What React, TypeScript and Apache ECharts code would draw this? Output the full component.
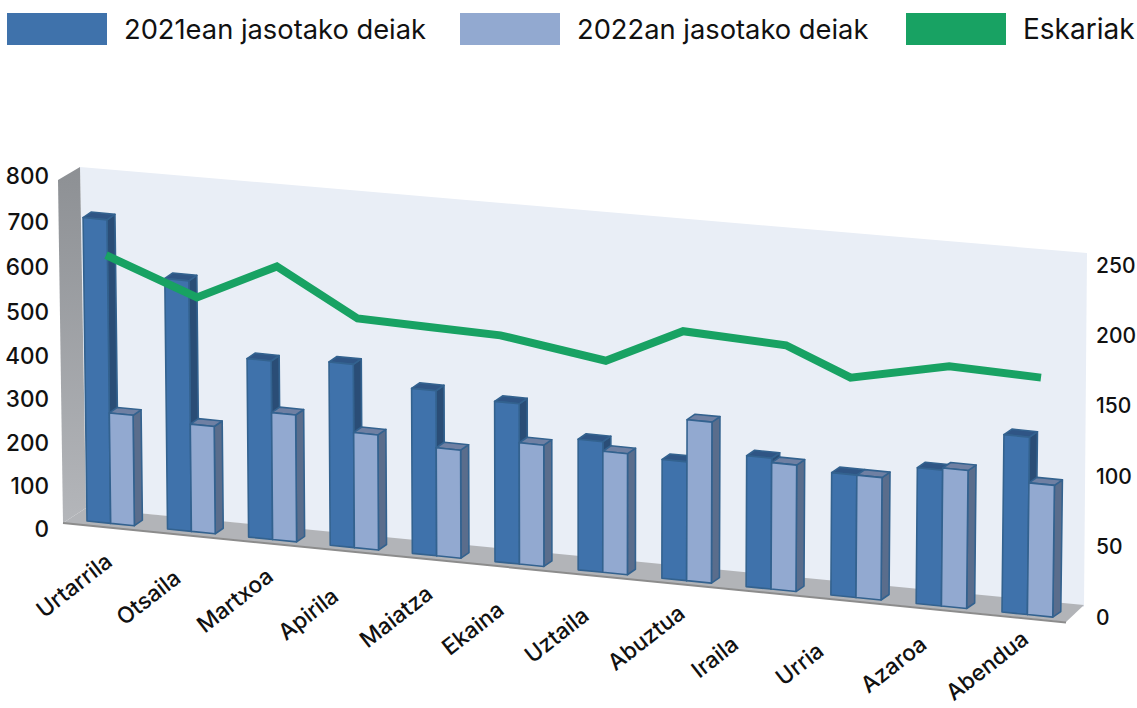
import React, { useEffect, useRef } from "react";
import * as echarts from "echarts";

const months = ["Urtarrila", "Otsaila", "Martxoa", "Apirila", "Maiatza", "Ekaina", "Uztaila", "Abuztua", "Iraila", "Urria", "Azaroa", "Abendua"];
const calls2021 = [709, 584, 415, 425, 382, 370, 301, 273, 300, 280, 310, 404];
const calls2022 = [258, 250, 295, 267, 250, 280, 279, 370, 290, 280, 315, 300];
const demand = [257, 227, 249, 212, 206, 200, 182, 203, 193, 170, 178, 170];
const demandPos = [0, 1.07, 2.01, 2.96, 3.8, 4.64, 5.88, 6.79, 8, 8.76, 9.92, 11];
const leftTicks = { min: 0, max: 800, interval: 100 };
const rightTicks = { min: 0, max: 250, interval: 50 };
const names = ["2021ean jasotako deiak", "2022an jasotako deiak", "Eskariak"];

const FONT = "Inter";
const FLOOR_SLOPE = 0.0995;
const DEPTH = [8, -5.5];

// Perspective: the months spread slightly towards the right, and the scale grows.
const bend = (i: number) => 0.264 * i * (i - 11);
const spacing = (i: number) => 80.28 + 0.528 * i;
const scaleAt = (i: number) => 0.97 + (0.025 * i) / 11;
// The left wall's tick labels crowd slightly towards its foot (perspective).
const tickDrop = (v: number) => (v === 0 || v === 800 ? 0 : v === 100 || v === 700 ? 2 : v >= 400 && v <= 500 ? 4 : 3);

function barShape(api: any, fill: string, side: string, top: string, stroke: string, slot: number) {
  const i = api.value(0);
  const v = api.value(1);
  const origin = api.coord([0, 0]);
  const zero = api.coord([i, 0]);
  const head = api.coord([i, v]);
  const w = spacing(i) * 0.295;
  const h = (zero[1] - head[1]) * scaleAt(i);
  const xl = zero[0] + bend(i) + slot * w;
  const xr = xl + w;
  const base = (x: number) => zero[1] - 7 + FLOOR_SLOPE * (x - origin[0]);
  const lean = (x: number) => x + (x - 583) * 0.0000261 * h;
  const bl = [xl, base(xl)];
  const br = [xr, base(xr)];
  const tl = [lean(xl), base(xl) - h];
  const tr = [lean(xr), base(xr) - h];
  const off = (p: number[]) => [p[0] + DEPTH[0], p[1] + DEPTH[1]];
  const face = (pts: number[][], color: string) => ({
    type: "polygon",
    shape: { points: pts },
    style: { fill: color, stroke, lineWidth: 1.6, lineJoin: "round" },
  });
  return {
    type: "group",
    children: [
      face([tr, br, off(br), off(tr)], side),
      face([tl, tr, off(tr), off(tl)], top),
      face([tl, tr, br, bl], fill),
    ],
  };
}

function floorAnchor(api: any, i: number) {
  const zero = api.coord([i, 0]);
  const origin = api.coord([0, 0]);
  return [zero[0] + bend(i) - 48 - 0.5 * i, zero[1] + 84 + FLOOR_SLOPE * (zero[0] - origin[0]) * 0.91];
}

export default function App() {
  const ref = useRef<HTMLDivElement>(null);
  useEffect(() => {
    const chart = echarts.init(ref.current!, null, { renderer: "svg" });
    const legendBase = {
      top: 13,
      padding: 0,
      itemWidth: 100,
      itemHeight: 32,
      icon: "rect",
      textStyle: { fontFamily: FONT, fontSize: 27.3, color: "#111", padding: [0, 0, 0, 12] },
    };
    const axisOff = { show: false };
    const tickText = { fontFamily: FONT, fontWeight: 500, fontSize: 22.5, color: "#111" };
    const option: any = {
      animation: false,
      backgroundColor: "#ffffff",
      legend: [
        { ...legendBase, left: 7, data: [names[0]] },
        { ...legendBase, left: 460, data: [names[1]] },
        {
          ...legendBase, left: 906, textStyle: { ...legendBase.textStyle, fontSize: 28 },
          data: [{ name: names[2], icon: "rect", itemStyle: { color: "#18a263" }, lineStyle: { width: 32, color: "#18a263" } }],
        },
      ],
      grid: [
        { left: 87, width: 915, top: 175, height: 353, outerBoundsMode: "none" },
        { left: 106, width: 935, top: 265, height: 352, outerBoundsMode: "none" },
      ],
      xAxis: [
        { type: "value", gridIndex: 0, min: 0, max: months.length - 1, ...axisOff },
        { type: "value", gridIndex: 1, min: 0, max: months.length - 1, ...axisOff },
      ],
      yAxis: [
        {
          type: "value", gridIndex: 0, ...leftTicks, position: "left",
          axisLine: axisOff, axisTick: axisOff, splitLine: axisOff,
          axisLabel: {
            margin: 38, ...tickText, align: "right",
            formatter: (v: number) => `{d${tickDrop(v)}|${v}}`,
            rich: {
              d0: { ...tickText },
              d2: { ...tickText, padding: [4, 0, 0, 0] },
              d3: { ...tickText, padding: [6, 0, 0, 0] },
              d4: { ...tickText, padding: [8, 0, 0, 0] },
            },
          },
        },
        {
          type: "value", gridIndex: 1, ...rightTicks, position: "right",
          axisLine: axisOff, axisTick: axisOff, splitLine: axisOff,
          axisLabel: { margin: 55, ...tickText, fontSize: 21, align: "left" },
        },
      ],
      graphic: [
        { type: "polygon", z: 0, silent: true, shape: { points: [[80, 167], [1087, 253], [1084, 607], [86, 508]] }, style: { fill: "#e9eef6" } },
        {
          type: "polygon", z: 0, silent: true, shape: { points: [[58, 180], [80, 167], [86, 508], [63, 523]] },
          style: { fill: { type: "linear", x: 0, y: 0, x2: 0, y2: 1, colorStops: [{ offset: 0, color: "#8d9094" }, { offset: 1, color: "#b4b6ba" }] } },
        },
        { type: "polygon", z: 0, silent: true, shape: { points: [[63, 523], [86, 508], [1084, 605], [1066, 622]] }, style: { fill: "#b2b4b8" } },
        { type: "line", z: 0, silent: true, shape: { x1: 63, y1: 523, x2: 1066, y2: 622.5 }, style: { stroke: "#8c8c8c", lineWidth: 2 } },
      ],
      series: [
        {
          type: "custom", name: names[0], xAxisIndex: 0, yAxisIndex: 0, z: 2,
          itemStyle: { color: "#3f72ab" },
          encode: { x: 0, y: 1 },
          data: calls2021.map((v, i) => [i, v]),
          renderItem: (_: any, api: any) => barShape(api, "#3f72ab", "#2a4d76", "#2f5585", "#33628f", 0),
        },
        {
          type: "custom", name: names[1], xAxisIndex: 0, yAxisIndex: 0, z: 3,
          itemStyle: { color: "#92a9d0" },
          encode: { x: 0, y: 1 },
          data: calls2022.map((v, i) => [i, v]),
          renderItem: (_: any, api: any) => barShape(api, "#92a9d0", "#5a6d8c", "#6f80a3", "#33628f", 1),
        },
        {
          type: "custom", name: "months", xAxisIndex: 0, yAxisIndex: 0, z: 4, silent: true,
          encode: { x: 0 },
          data: months.map((m, i) => [i, 0, m]),
          renderItem: (p: any, api: any) => {
            const a = floorAnchor(api, p.dataIndex);
            return {
              type: "text", x: a[0], y: a[1], rotation: (38 * Math.PI) / 180,
              style: { text: months[p.dataIndex], fontFamily: FONT, fontWeight: 500, fontSize: 22.5, fill: "#111", align: "left", verticalAlign: "middle" },
            };
          },
        },
        {
          type: "line", name: names[2], xAxisIndex: 1, yAxisIndex: 1, z: 5, silent: true,
          symbol: "none", clip: false,
          itemStyle: { color: "#18a263" },
          lineStyle: { color: "#18a263", width: 8, cap: "butt", join: "miter" },
          data: demand.map((v, i) => [demandPos[i], v]),
        },
      ],
    };
    chart.setOption(option);
    return () => chart.dispose();
  }, []);
  return <div ref={ref} style={{ position: "fixed", left: 0, top: 0, width: 1137, height: 708 }} />;
}
